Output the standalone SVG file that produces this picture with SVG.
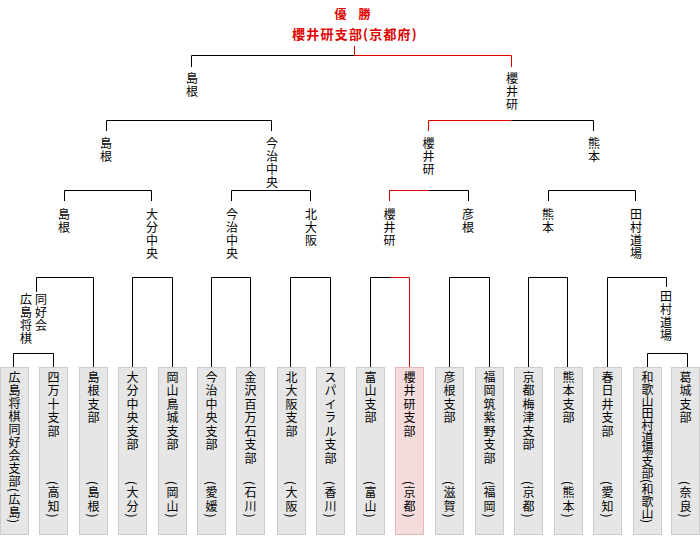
<svg xmlns="http://www.w3.org/2000/svg" width="700" height="550" viewBox="0 0 700 550">
<style>
text{font-family:"Noto Sans CJK JP","Noto Sans CJK SC",sans-serif;font-size:12px;fill:#000}
.v{writing-mode:vertical-rl;letter-spacing:1px}
.leaf{writing-mode:vertical-rl;letter-spacing:1.5px}
.box{fill:#e6e6e6;stroke:#cccccc;stroke-width:1}
.win{fill:#f5dcdc;stroke:#e6b8b8;stroke-width:1}
.ln{fill:none;stroke:#000;stroke-width:1}
.rd{fill:none;stroke:#e00000;stroke-width:1}
.title{fill:#e00000;font-weight:bold;text-anchor:middle}
</style>
<rect width="700" height="550" fill="#fff"/>
<g id="title">
<text class="title" x="352.5" y="19">優　勝</text>
<text class="title" x="355" y="38.5" style="font-size:13px;letter-spacing:1.2px">櫻井研支部(京都府)</text>
</g>
<g id="connectors">
<path class="ln" d="M191.5,67 V55.5 H354.5"/>
<path class="rd" d="M354.5,46 V55.5 H511.5 V67"/>
<path class="ln" d="M106.5,131 V120.5 H271.5 V131"/>
<path class="rd" d="M428.5,131 V120.5 H511.5"/>
<path class="ln" d="M511.5,120.5 H593.5 V131"/>
<path class="ln" d="M64.5,201 V190.5 H151.5 V201"/>
<path class="ln" d="M231.5,201 V190.5 H310.5 V201"/>
<path class="rd" d="M389.5,201 V190.5 H429"/>
<path class="ln" d="M429,190.5 H468.5 V201"/>
<path class="ln" d="M548.5,201 V190.5 H635.5 V201"/>
<path class="ln" d="M36.5,292 V277.5 H93.5 V367"/>
<path class="ln" d="M132.5,367 V277.5 H172.5 V367"/>
<path class="ln" d="M211.5,367 V277.5 H250.5 V367"/>
<path class="ln" d="M290.5,367 V277.5 H330.5 V367"/>
<path class="ln" d="M370.5,367 V277.5 H390"/>
<path class="rd" d="M390,277.5 H409.5 V367"/>
<path class="ln" d="M449.5,367 V277.5 H489.5 V367"/>
<path class="ln" d="M528.5,367 V277.5 H567.5 V367"/>
<path class="ln" d="M607.5,367 V277.5 H666.5 V287"/>
<path class="ln" d="M13.5,367 V353.5 H53.5 V367"/>
<path class="ln" d="M647.5,367 V353.5 H687.5 V367"/>
</g>
<g id="r4-shimane"><text class="v" x="192" y="72">島根</text></g>
<g id="r4-sakurai"><text class="v" x="512" y="72">櫻井研</text></g>
<g id="r3-shimane"><text class="v" x="106" y="137">島根</text></g>
<g id="r3-imabari"><text class="v" x="272" y="137">今治中央</text></g>
<g id="r3-sakurai"><text class="v" x="428.5" y="137">櫻井研</text></g>
<g id="r3-kumamoto"><text class="v" x="594" y="137">熊本</text></g>
<g id="r2-shimane"><text class="v" x="64" y="208">島根</text></g>
<g id="r2-oita"><text class="v" x="152" y="208">大分中央</text></g>
<g id="r2-imabari"><text class="v" x="232" y="208">今治中央</text></g>
<g id="r2-kitaosaka"><text class="v" x="311" y="208">北大阪</text></g>
<g id="r2-sakurai"><text class="v" x="389.5" y="208">櫻井研</text></g>
<g id="r2-hikone"><text class="v" x="468" y="208">彦根</text></g>
<g id="r2-kumamoto"><text class="v" x="548" y="208">熊本</text></g>
<g id="r2-tamura"><text class="v" x="636" y="208">田村道場</text></g>
<g id="r1-hiroshima"><text class="v" x="26" y="293">広島将棋</text><text class="v" x="41" y="293">同好会</text></g>
<g id="r1-tamura"><text class="v" x="666" y="290">田村道場</text></g>
<g id="leaf1"><rect class="box" x="0.5" y="367.5" width="28" height="167"/><text class="leaf" x="14.5" y="371" style="letter-spacing:1px">広島将棋同好会支部(広島)</text></g>
<g id="leaf2"><rect class="box" x="39.5" y="367.5" width="28" height="167"/><text class="leaf" x="53.5" y="371">四万十支部</text><text class="leaf" x="53.5" y="481">(高知)</text></g>
<g id="leaf3"><rect class="box" x="79.5" y="367.5" width="28" height="167"/><text class="leaf" x="93.5" y="371">島根支部</text><text class="leaf" x="93.5" y="481">(島根)</text></g>
<g id="leaf4"><rect class="box" x="118.5" y="367.5" width="28" height="167"/><text class="leaf" x="132.5" y="371">大分中央支部</text><text class="leaf" x="132.5" y="481">(大分)</text></g>
<g id="leaf5"><rect class="box" x="158.5" y="367.5" width="28" height="167"/><text class="leaf" x="172.5" y="371">岡山鳥城支部</text><text class="leaf" x="172.5" y="481">(岡山)</text></g>
<g id="leaf6"><rect class="box" x="197.5" y="367.5" width="28" height="167"/><text class="leaf" x="211.5" y="371">今治中央支部</text><text class="leaf" x="211.5" y="481">(愛媛)</text></g>
<g id="leaf7"><rect class="box" x="236.5" y="367.5" width="28" height="167"/><text class="leaf" x="250.5" y="371">金沢百万石支部</text><text class="leaf" x="250.5" y="481">(石川)</text></g>
<g id="leaf8"><rect class="box" x="277.5" y="367.5" width="28" height="167"/><text class="leaf" x="291.5" y="371">北大阪支部</text><text class="leaf" x="291.5" y="481">(大阪)</text></g>
<g id="leaf9"><rect class="box" x="316.5" y="367.5" width="28" height="167"/><text class="leaf" x="330.5" y="371">スパイラル支部</text><text class="leaf" x="330.5" y="481">(香川)</text></g>
<g id="leaf10"><rect class="box" x="356.5" y="367.5" width="28" height="167"/><text class="leaf" x="370.5" y="371">富山支部</text><text class="leaf" x="370.5" y="481">(富山)</text></g>
<g id="leaf11"><rect class="win" x="395.5" y="367.5" width="28" height="167"/><text class="leaf" x="409.5" y="371">櫻井研支部</text><text class="leaf" x="409.5" y="481">(京都)</text></g>
<g id="leaf12"><rect class="box" x="435.5" y="367.5" width="28" height="167"/><text class="leaf" x="449.5" y="371">彦根支部</text><text class="leaf" x="449.5" y="481">(滋賀)</text></g>
<g id="leaf13"><rect class="box" x="475.5" y="367.5" width="28" height="167"/><text class="leaf" x="489.5" y="371">福岡筑紫野支部</text><text class="leaf" x="489.5" y="481">(福岡)</text></g>
<g id="leaf14"><rect class="box" x="514.5" y="367.5" width="28" height="167"/><text class="leaf" x="528.5" y="371">京都梅津支部</text><text class="leaf" x="528.5" y="481">(京都)</text></g>
<g id="leaf15"><rect class="box" x="554.5" y="367.5" width="28" height="167"/><text class="leaf" x="568.5" y="371">熊本支部</text><text class="leaf" x="568.5" y="481">(熊本)</text></g>
<g id="leaf16"><rect class="box" x="593.5" y="367.5" width="28" height="167"/><text class="leaf" x="607.5" y="371">春日井支部</text><text class="leaf" x="607.5" y="481">(愛知)</text></g>
<g id="leaf17"><rect class="box" x="633.5" y="367.5" width="28" height="167"/><text class="leaf" x="647.5" y="371" style="letter-spacing:0px">和歌山田村道場支部(和歌山)</text></g>
<g id="leaf18"><rect class="box" x="671.5" y="367.5" width="28" height="167"/><text class="leaf" x="685.5" y="371">葛城支部</text><text class="leaf" x="685.5" y="481">(奈良)</text></g>
</svg>
